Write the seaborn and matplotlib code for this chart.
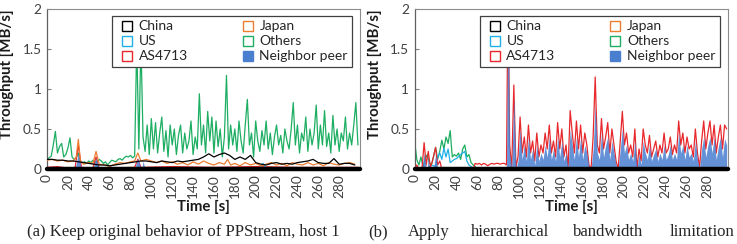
import numpy as np
import pandas as pd
import seaborn as sns
import matplotlib.pyplot as plt
from matplotlib.lines import Line2D

# ---------------- (a) keep original behaviour ----------------
a_others = [0.12, 0.14, 0.16, 0.30, 0.47, 0.20, 0.28, 0.32, 0.15, 0.18, 0.26, 0.39, 0.15, 0.12, 0.14,
            0.20, 0.10, 0.08, 0.09, 0.07, 0.10, 0.08, 0.11, 0.09, 0.08, 0.12, 0.10, 0.07, 0.09, 0.05,
            0.08, 0.11, 0.10, 0.09, 0.12, 0.13, 0.11, 0.14, 0.16, 0.15, 0.17, 0.14, 0.16,
            1.60, 0.25, 1.60, 0.40, 0.22, 0.55, 0.18,
            0.63, 0.25, 0.58, 0.20, 0.45, 0.65, 0.22, 0.48, 0.15, 0.55, 0.30, 0.50, 0.18, 0.42, 0.55,
            0.20, 0.45, 0.25, 0.35, 0.60, 0.18, 0.40, 0.25, 0.94, 0.30, 0.55, 0.20, 0.72, 0.35, 0.65,
            0.20, 0.60, 0.28, 0.50, 0.15, 0.40, 1.17, 0.25, 0.55, 0.30, 0.50, 0.22, 0.60, 0.35, 0.20,
            0.55, 0.87, 0.30, 0.45, 0.15, 0.60, 0.35, 0.22, 0.48, 0.30, 0.60, 0.25, 0.45, 0.18, 0.40,
            0.55, 0.30, 0.42, 0.20, 0.50, 0.35, 0.25, 0.50, 0.83, 0.30, 0.55, 0.20, 0.45, 0.35, 0.65,
            0.22, 0.50, 0.30, 0.45, 0.80, 0.25, 0.55, 0.30, 0.73, 0.28, 0.45, 0.20, 0.67, 0.30, 0.50,
            0.22, 0.45, 0.35, 0.65, 0.25, 0.45, 0.30, 0.55, 0.83, 0.30]
a_others_t = list(range(0, 2 * len(a_others), 2))

a_china_t = list(range(0, 300, 5))
a_china = [0.12, 0.12, 0.11, 0.11, 0.10, 0.10, 0.09, 0.08, 0.07, 0.06, 0.05, 0.05, 0.04, 0.05, 0.06,
           0.07, 0.08, 0.09, 0.10, 0.10, 0.09, 0.08, 0.10, 0.09, 0.08, 0.10, 0.09, 0.10, 0.11, 0.12,
           0.15, 0.19, 0.15, 0.18, 0.20, 0.17, 0.12, 0.15, 0.12, 0.17, 0.08, 0.06, 0.05, 0.07, 0.08,
           0.06, 0.07, 0.06, 0.08, 0.09, 0.10, 0.12, 0.08, 0.07, 0.07, 0.13, 0.06, 0.07, 0.07, 0.05]

a_japan_t = [0, 5, 10, 15, 20, 25, 28, 30, 32, 35, 40, 44, 47, 50, 55, 60, 65, 70, 75, 80, 84, 87, 90,
             95, 100, 105, 110, 115, 120, 125, 130, 135, 140, 145, 150, 155, 160, 165, 170, 173, 176,
             180, 185, 190, 195, 200, 205, 210, 215, 220, 225, 230, 235, 240, 245, 250, 255, 260, 265,
             270, 275, 280, 285, 290, 295]
a_japan = [0.11, 0.12, 0.10, 0.11, 0.09, 0.10, 0.15, 0.37, 0.10, 0.06, 0.08, 0.07, 0.22, 0.06, 0.05,
           0.03, 0.06, 0.08, 0.07, 0.09, 0.10, 0.20, 0.10, 0.12, 0.10, 0.08, 0.10, 0.07, 0.09, 0.06,
           0.08, 0.05, 0.09, 0.06, 0.10, 0.07, 0.05, 0.08, 0.06, 0.12, 0.05, 0.07, 0.04, 0.08, 0.05,
           0.07, 0.04, 0.06, 0.08, 0.05, 0.07, 0.04, 0.08, 0.06, 0.05, 0.08, 0.05, 0.07, 0.04, 0.08,
           0.06, 0.05, 0.07, 0.08, 0.06]

a_us_t = [0, 100, 204, 207, 210, 299]
a_us = [0.01, 0.01, 0.01, 0.07, 0.01, 0.01]

a_as_t = [0, 10, 20, 27, 30, 33, 44, 47, 50, 84, 87, 90, 120, 160, 200, 240, 299]
a_as = [0.02, 0.03, 0.01, 0.02, 0.30, 0.02, 0.01, 0.15, 0.01, 0.02, 0.12, 0.02, 0.03, 0.02, 0.03, 0.02, 0.02]

a_peer_t = [0, 27, 30, 33, 44, 47, 50, 84, 87, 90, 91, 92, 94, 299]
a_peer = [0, 0, 0.20, 0, 0, 0.14, 0, 0, 0.14, 0, 0, 0.10, 0, 0]

# ---------------- (b) hierarchical bandwidth limitation ----------------
b_others_t = [0, 2, 4, 6, 8, 10, 12, 14, 16, 18, 20, 22, 24, 26, 28, 30, 32, 34, 36, 38, 40, 42, 44,
              46, 48, 50, 52, 54, 56, 58, 60, 299]
b_others = [0.34, 0.12, 0.05, 0.15, 0.03, 0.12, 0.18, 0.08, 0.05, 0.15, 0.27, 0.12, 0.22, 0.36, 0.25,
            0.40, 0.32, 0.48, 0.15, 0.18, 0.16, 0.20, 0.12, 0.25, 0.30, 0.15, 0.18, 0.08, 0.05, 0.03, 0, 0]

b_us_t = [0, 4, 8, 12, 16, 20, 22, 24, 26, 28, 30, 32, 34, 36, 38, 40, 44, 48, 50, 52, 55, 58, 299]
b_us = [0, 0, 0.02, 0, 0.05, 0.03, 0.15, 0.20, 0.12, 0.26, 0.15, 0.25, 0.08, 0.10, 0.12, 0.13, 0.18,
        0.22, 0.10, 0.05, 0.02, 0, 0]

b_as_t = [0, 2, 4, 7, 9, 11, 13, 15, 17, 20, 22, 24, 26, 28, 30, 56, 58, 60, 62, 64, 66, 68, 70, 72,
          74, 76, 78, 80, 82, 84, 86, 87, 88, 89, 90, 91, 93, 95, 97] + list(range(99, 300, 2))
b_as = [0, 0.05, 0, 0, 0.33, 0.05, 0.22, 0.02, 0.10, 0.27, 0.05, 0.10, 0, 0.02, 0, 0, 0.07, 0.06,
        0.07, 0.05, 0.07, 0.06, 0.04, 0.06, 0.07, 0.06, 0.07, 0.07, 0.06, 0.07, 0.07, 0.06, 0.05,
        1.60, 1.60, 0.30, 0.00, 1.05, 0.02,
        0.15, 0.65, 0.20, 0.40, 0.15, 0.55, 0.20, 0.35, 0.10, 0.45, 0.15, 0.30, 0.20, 0.45, 0.25,
        0.55, 0.20, 0.35, 0.15, 0.58, 0.25, 0.50, 0.15, 0.30, 0.00, 0.73, 0.45, 0.20, 0.60, 0.25,
        0.55, 0.20, 0.45, 0.30, 0.05, 0.00, 0.40, 1.15, 0.30, 0.20, 0.63, 0.25, 0.40, 0.58, 0.20,
        0.50, 0.30, 0.10, 0.00, 0.35, 0.72, 0.30, 0.45, 0.20, 0.30, 0.15, 0.50, 0.00, 0.25, 0.10,
        0.50, 0.30, 0.20, 0.42, 0.15, 0.25, 0.35, 0.15, 0.30, 0.20, 0.45, 0.20, 0.25, 0.40, 0.18,
        0.30, 0.20, 0.60, 0.30, 0.45, 0.20, 0.40, 0.25, 0.30, 0.15, 0.50, 0.20, 0.02, 0.35, 0.60,
        0.25, 0.45, 0.60, 0.30, 0.55, 0.20, 0.40, 0.55, 0.25, 0.55, 0.50]

b_peer_t = [0, 7, 9, 11, 12, 13, 14, 18, 20, 22, 88, 89, 90, 91, 93, 95, 97] + list(range(99, 300, 2))
b_peer = [0, 0, 0.20, 0, 0, 0.15, 0, 0, 0.18, 0, 0, 1.60, 1.60, 0.20, 0, 0.90, 0,
          0.10, 0.50, 0.12, 0.30, 0.10, 0.40, 0.12, 0.25, 0.05, 0.30, 0.10, 0.20, 0.12, 0.30, 0.15,
          0.40, 0.12, 0.25, 0.10, 0.40, 0.15, 0.35, 0.10, 0.20, 0.00, 0.50, 0.30, 0.12, 0.40, 0.15,
          0.40, 0.12, 0.30, 0.20, 0.03, 0.00, 0.25, 0.80, 0.20, 0.12, 0.45, 0.15, 0.30, 0.40, 0.12,
          0.35, 0.20, 0.05, 0.00, 0.25, 0.50, 0.20, 0.30, 0.12, 0.20, 0.10, 0.35, 0.00, 0.18, 0.06,
          0.35, 0.20, 0.12, 0.30, 0.10, 0.18, 0.25, 0.10, 0.20, 0.12, 0.30, 0.12, 0.18, 0.30, 0.12,
          0.20, 0.12, 0.45, 0.20, 0.30, 0.12, 0.30, 0.15, 0.20, 0.10, 0.35, 0.12, 0.00, 0.25, 0.40,
          0.15, 0.30, 0.40, 0.20, 0.40, 0.12, 0.28, 0.40, 0.15, 0.38, 0.30]

labels = ['China', 'US', 'AS4713', 'Japan', 'Others', 'Neighbor peer']
colors = {'China': '#000000', 'Japan': '#ED7D31', 'US': '#1FB0E8', 'Others': '#1DAE62',
          'AS4713': '#E8282C', 'Neighbor peer': '#4A7FD0'}
xticks = list(range(0, 300, 20))
yticks = [0, 0.5, 1, 1.5, 2]
ytick_labels = ['0', '0.5', '1', '1.5', '2']

sns.set_style('white')
plt.rcParams['font.family'] = ['Lato', 'DejaVu Sans']

fig = plt.figure(figsize=(7.37, 2.44), dpi=100)
ax1 = fig.add_axes([0.0638, 0.3074, 0.4247, 0.6557])
ax2 = fig.add_axes([0.5627, 0.3074, 0.4247, 0.6557])


def line(ax, t, v, name, z):
    sns.lineplot(x=t, y=v, ax=ax, color=colors[name], lw=0.9, zorder=z, estimator=None)


def peer(ax, t, v):
    ax.fill_between(t, 0, v, color=colors['Neighbor peer'], alpha=0.85, lw=0, zorder=4)


# panel (a)
line(ax1, a_others_t, a_others, 'Others', 2)
line(ax1, a_as_t, a_as, 'AS4713', 3)
peer(ax1, a_peer_t, a_peer)
line(ax1, a_us_t, a_us, 'US', 5)
line(ax1, a_japan_t, a_japan, 'Japan', 5)
line(ax1, a_china_t, a_china, 'China', 6)

# panel (b)
line(ax2, b_others_t, b_others, 'Others', 2)
line(ax2, b_us_t, b_us, 'US', 3)
line(ax2, b_as_t, b_as, 'AS4713', 3)
peer(ax2, b_peer_t, b_peer)

handles = []
for name in labels:
    if name == 'Neighbor peer':
        handles.append(Line2D([], [], ls='none', marker='s', ms=6.5, mfc=colors[name], mec=colors[name]))
    else:
        handles.append(Line2D([], [], ls='none', marker='s', ms=6.5, mfc='white', mec=colors[name], mew=1.0))

for ax in (ax1, ax2):
    ax.set_xlim(0, 300)
    ax.set_ylim(0, 2)
    ax.set_xticks(xticks)
    ax.set_xticklabels([str(x) for x in xticks], rotation=90)
    ax.set_yticks(yticks)
    ax.set_yticklabels(ytick_labels)
    ax.tick_params(axis='both', labelsize=9.8, labelcolor='#404040', length=0, pad=4)
    ax.tick_params(axis='x', pad=4)
    ax.tick_params(axis='y', length=3, direction='in', color='#808080', width=0.8, left=True)
    for s in ('top', 'right'):
        ax.spines[s].set_color('#8c8c8c')
        ax.spines[s].set_linewidth(0.8)
    ax.spines['left'].set_color('#606060')
    ax.spines['left'].set_linewidth(0.9)
    ax.axhline(0, color='black', lw=3.2, zorder=8, clip_on=False)
    ax.set_xlabel('Time [s]', fontsize=10.8, fontweight='bold', color='#1a1a1a')
    ax.set_ylabel('Throughput [MB/s]', fontsize=10.8, fontweight='bold', color='#1a1a1a')
    ax.xaxis.set_label_coords(0.5, -0.195)
    ax.yaxis.set_label_coords(-0.105, 0.59)
    ax.xaxis.label.set_va('top')
    leg = ax.legend(handles, labels, ncol=2, loc='upper right', bbox_to_anchor=(0.974, 0.955),
                    fontsize=10, frameon=True, fancybox=False, borderpad=0.3, labelspacing=0.22,
                    handlelength=1.5, handletextpad=0.1, columnspacing=3.55, borderaxespad=0)
    leg.get_frame().set_edgecolor('#404040')
    leg.get_frame().set_linewidth(0.9)
    leg.get_frame().set_alpha(1)
    leg.set_zorder(10)

serif = ['Liberation Serif', 'DejaVu Serif']
fig.text(183 / 737, 1 - 232 / 244, '(a) Keep original behavior of PPStream, host 1',
         ha='center', va='center', fontsize=12, family=serif)
for word, xpx in [('(b)', 368), ('Apply', 408), ('hierarchical', 471), ('bandwidth', 573), ('limitation', 670)]:
    fig.text(xpx / 737, 1 - 232 / 244, word, ha='left', va='center', fontsize=12, family=serif)

fig.savefig('out.png', dpi=100)
